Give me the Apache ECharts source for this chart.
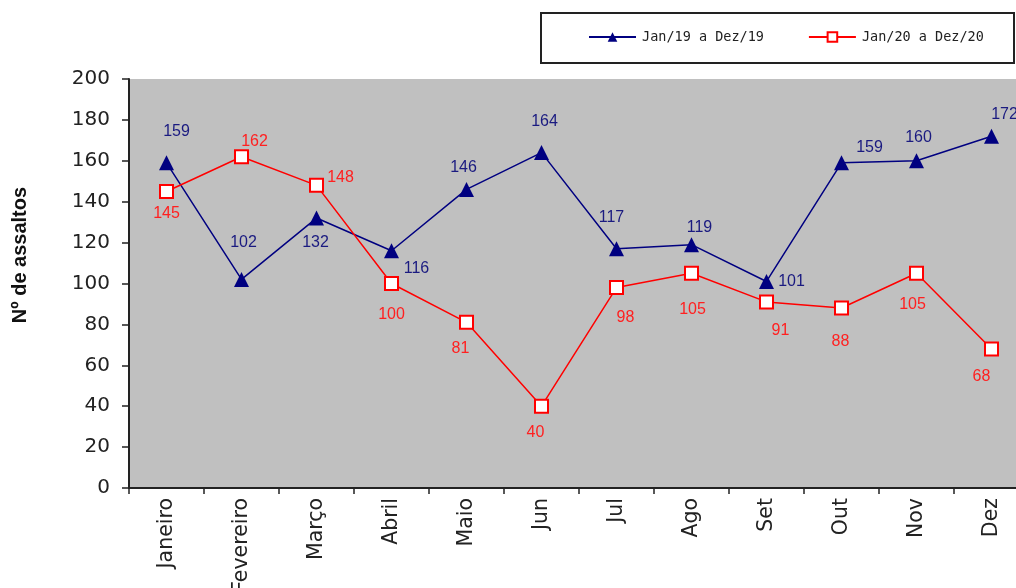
<!DOCTYPE html>
<html>
<head>
<meta charset="utf-8">
<script src="https://cdn.jsdelivr.net/npm/echarts@6/dist/echarts.min.js"></script>
<style>
  html, body { margin: 0; padding: 0; background: #ffffff; overflow: hidden; }
  #chart { width: 1030px; height: 588px; }
</style>
</head>
<body>
<div id="chart"></div>
<script>
// Monthly robbery counts, two years side by side
const months = ['Janeiro', 'Fevereiro', 'Março', 'Abril', 'Maio', 'Jun', 'Jul', 'Ago', 'Set', 'Out', 'Nov', 'Dez'];
const series2019 = [159, 102, 132, 116, 146, 164, 117, 119, 101, 159, 160, 172];
const series2020 = [145, 162, 148, 100, 81, 40, 98, 105, 91, 88, 105, 68];
const name2019 = 'Jan/19 a Dez/19';
const name2020 = 'Jan/20 a Dez/20';
const yTicks = { min: 0, max: 200, step: 20 };

// Label offsets (pixels from each marker's centre)
const offsets2019 = [[10, -31], [2, -37], [-1, 25], [25, 18], [-3, -22], [3, -31], [-5, -31], [8, -17], [25, 0], [28, -15], [2, -23], [13, -22]];
const offsets2020 = [[0, 22], [13, -15], [24, -8], [0, 31], [-6, 26], [-6, 26], [9, 30], [1, 36], [14, 29], [-1, 34], [-4, 31], [-10, 28]];

const NAVY = '#000080';
const RED = '#ff0000';

function withLabels(values, offsets, color) {
  return values.map((v, i) => ({
    value: v,
    label: {
      show: true,
      position: 'inside',
      offset: offsets[i],
      color: color,
      fontFamily: 'Liberation Sans, Arial, sans-serif',
      fontSize: 16
    }
  }));
}

const chart = echarts.init(document.getElementById('chart'), null, { renderer: 'canvas' });

chart.setOption({
  animation: false,
  backgroundColor: '#ffffff',
  grid: {
    left: 129,
    right: 1,
    top: 79,
    bottom: 100,
    containLabel: false,
    outerBoundsMode: 'none',
    show: true,
    backgroundColor: '#c0c0c0',
    borderWidth: 0
  },
  graphic: [
    {
      type: 'rect',
      shape: { x: 541, y: 13, width: 473, height: 50 },
      style: { fill: '#ffffff', stroke: '#222222', lineWidth: 2 },
      z: 0
    },
    {
      type: 'text',
      x: 20,
      y: 255,
      rotation: Math.PI / 2,
      style: {
        text: 'Nº de assaltos',
        fill: '#111111',
        font: 'bold 20px "Liberation Sans", Arial, sans-serif',
        textAlign: 'center',
        textVerticalAlign: 'middle'
      }
    }
  ],
  legend: {
    left: 588,
    top: 30,
    padding: 0,
    itemWidth: 47,
    itemHeight: 12,
    itemGap: 44,
    textStyle: {
      fontFamily: 'DejaVu Sans Mono, monospace',
      fontSize: 13.5,
      color: '#222222',
      padding: [0, 0, 0, 1]
    },
    data: [name2019, name2020],
    z: 5
  },
  xAxis: {
    type: 'category',
    data: months,
    boundaryGap: true,
    axisLine: { show: true, lineStyle: { color: '#222222', width: 2 } },
    axisTick: { show: true, length: 6, lineStyle: { color: '#222222', width: 1.5 } },
    axisLabel: {
      rotate: 90,
      margin: 10,
      interval: 0,
      fontFamily: 'DejaVu Sans, Verdana, sans-serif',
      fontSize: 20.5,
      color: '#222222'
    },
    splitLine: { show: false }
  },
  yAxis: {
    type: 'value',
    min: yTicks.min,
    max: yTicks.max,
    interval: yTicks.step,
    axisLine: { show: true, lineStyle: { color: '#222222', width: 2 } },
    axisTick: { show: true, length: 7, lineStyle: { color: '#222222', width: 1.5 } },
    axisLabel: {
      margin: 19,
      fontFamily: 'DejaVu Sans, Verdana, sans-serif',
      fontSize: 20,
      color: '#222222'
    },
    splitLine: { show: false }
  },
  series: [
    {
      name: name2019,
      type: 'line',
      data: withLabels(series2019, offsets2019, '#1a1a80'),
      symbol: 'triangle',
      symbolSize: 15,
      lineStyle: { color: NAVY, width: 1.5 },
      itemStyle: { color: NAVY, borderColor: NAVY, borderWidth: 0 },
      z: 3
    },
    {
      name: name2020,
      type: 'line',
      data: withLabels(series2020, offsets2020, '#ff2020'),
      symbol: 'rect',
      symbolSize: 13,
      lineStyle: { color: RED, width: 1.5 },
      itemStyle: { color: '#ffffff', borderColor: RED, borderWidth: 2 },
      z: 4
    }
  ]
});
</script>
</body>
</html>
